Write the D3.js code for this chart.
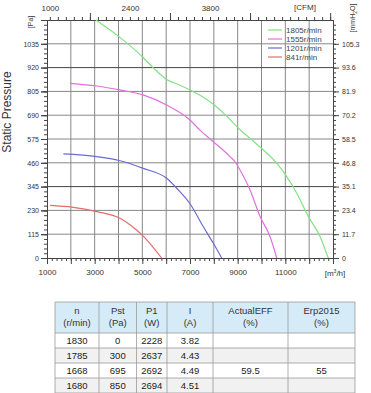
<!DOCTYPE html>
<html>
<head>
<meta charset="utf-8">
<script src="https://cdn.jsdelivr.net/npm/d3@7"></script>
<style>
  body { margin: 0; background: #fff; }
  svg { display: block; font-family: "Liberation Sans", Arial, sans-serif; }
  .axis text { fill: #333; font-size: 8px; }
  .axis.small text { font-size: 7px; }
  .axis path, .axis line { stroke: #444; }
</style>
</head>
<body>
<svg id="chart" width="371" height="393"></svg>
<script>
// fan curves: [flow m3/h, static pressure Pa]
const speeds = ['1805r/min', '1555r/min', '1201r/min', '841r/min'];
const colors = ['#86e086', '#e070e0', '#6b6bd6', '#e46b6b'];
const curve1805 = [[3050,1150],[4060,1066],[5030,969],[5450,920],[6020,863],[6580,835],[7000,812],[7420,786],[7970,744],[8540,685],[9100,620],[9520,578],[10080,522],[10640,458],[11060,393],[11480,313],[11970,200],[12460,103],[12800,0]];
const curve1555 = [[1965,844],[3085,831],[4060,812],[5030,788],[6020,739],[7000,667],[7420,618],[7980,562],[8680,490],[8890,465],[9100,425],[9520,329],[9940,200],[10360,103],[10640,0]];
const curve1201 = [[1685,503],[3085,490],[4063,470],[5040,433],[6020,385],[6500,330],[7000,262],[7560,151],[7980,71],[8330,0]];
const curve841 = [[1126,254],[2100,245],[3085,224],[4063,192],[4550,155],[5040,106],[5810,0]];
const curves = [curve1805, curve1555, curve1201, curve841];

// axes
const paTicks = d3.range(0, 1151, 115);
const paLabels = d3.range(0, 1036, 115);
const mmTicks = ['0', '11.7', '23.4', '35.1', '46.8', '58.5', '70.2', '81.9', '93.6', '105.3'];
const flowTicks = [1000, 3000, 5000, 7000, 9000, 11000];
const cfmTicks = [1000, 2400, 3800];

// table
const tableHead = [['n', '(r/min)'], ['Pst', '(Pa)'], ['P1', '(W)'], ['I', '(A)'], ['ActualEFF', '(%)'], ['Erp2015', '(%)']];
const tableRows = [
  ['1830', '0', '2228', '3.82', '', ''],
  ['1785', '300', '2637', '4.43', '', ''],
  ['1668', '695', '2692', '4.49', '59.5', '55'],
  ['1680', '850', '2694', '4.51', '', '']
];

const svg = d3.select('#chart');
const L = 47, R = 333, T = 20, B = 258;

const x = d3.scaleLinear().domain([1000, 13000]).range([L, R]);
const y = d3.scaleLinear().domain([0, 1150]).range([B, T]);
const xCfm = d3.scaleLinear().domain([950, 5950]).range([L, R]);

// grid
const grid = svg.append('g');
grid.selectAll('.vg').data(d3.range(2000, 13000, 1000)).enter().append('line')
  .attr('x1', d => x(d)).attr('x2', d => x(d)).attr('y1', T).attr('y2', B)
  .attr('stroke', '#888').attr('stroke-width', 1);
grid.selectAll('.hg').data(paTicks.slice(1, -1)).enter().append('line')
  .attr('x1', L).attr('x2', R).attr('y1', d => y(d)).attr('y2', d => y(d))
  .attr('stroke', d => (d === 920 || d === 345) ? '#444' : '#888').attr('stroke-width', 1);

// left axis
svg.append('g').attr('class', 'axis').attr('transform', `translate(${L},0)`)
  .call(d3.axisLeft(y).tickValues(d3.range(0, 1150, 23)).tickSize(3).tickFormat('').tickSizeOuter(0));
svg.append('g').attr('class', 'axis').attr('transform', `translate(${L},0)`)
  .call(d3.axisLeft(y).tickValues(paTicks).tickSize(6).tickFormat('').tickSizeOuter(0));
svg.append('g').attr('class', 'axis small').attr('transform', `translate(${L},0)`)
  .call(d3.axisLeft(y).tickValues(paLabels).tickSize(6).tickPadding(2).tickFormat(d3.format('d')).tickSizeOuter(0));

// right axis
svg.append('g').attr('class', 'axis').attr('transform', `translate(${R},0)`)
  .call(d3.axisRight(y).tickValues(d3.range(0, 1150, 23)).tickSize(3).tickFormat('').tickSizeOuter(0));
svg.append('g').attr('class', 'axis small').attr('transform', `translate(${R},0)`)
  .call(d3.axisRight(y).tickValues(paLabels).tickSize(6).tickPadding(3)
    .tickFormat((d, i) => mmTicks[i]).tickSizeOuter(0));

// bottom axis
svg.append('g').attr('class', 'axis').attr('transform', `translate(0,${B})`)
  .call(d3.axisBottom(x).tickValues(d3.range(1000, 13001, 200)).tickSize(3).tickFormat('').tickSizeOuter(0));
svg.append('g').attr('class', 'axis').attr('transform', `translate(0,${B})`)
  .call(d3.axisBottom(x).tickValues(d3.range(1000, 13001, 1000)).tickSize(6).tickPadding(5)
    .tickFormat(d => flowTicks.includes(d) ? d3.format('d')(d) : '').tickSizeOuter(0));
const unitX = svg.append('text').attr('x', x(13000) + 2).attr('y', B + 18).attr('text-anchor', 'middle')
  .attr('font-size', 8).attr('fill', '#333');
unitX.append('tspan').text('[m');
unitX.append('tspan').attr('font-size', 5).attr('dy', -3).text('3');
unitX.append('tspan').attr('dy', 3).text('/h]');

// top axis (CFM)
svg.append('g').attr('class', 'axis').attr('transform', `translate(0,${T})`)
  .call(d3.axisTop(xCfm).tickValues(d3.range(1000, 5950, 140)).tickSize(3).tickFormat('').tickSizeOuter(0));
svg.append('g').attr('class', 'axis').attr('transform', `translate(0,${T})`)
  .call(d3.axisTop(xCfm).tickValues([1700, 3100, 4500, 5900]).tickSize(7).tickFormat('').tickSizeOuter(0));
svg.append('g').attr('class', 'axis').attr('transform', `translate(0,${T})`)
  .call(d3.axisTop(xCfm).tickValues(cfmTicks).tickSize(0).tickPadding(9).tickFormat(d3.format('d')).tickSizeOuter(0))
  .call(g => g.select('.domain').remove());
svg.append('text').attr('x', 305).attr('y', 10).attr('text-anchor', 'middle')
  .attr('font-size', 8).attr('fill', '#333').text('[CFM]');

// axis titles
svg.append('text').attr('transform', 'translate(11,112) rotate(-90)').attr('text-anchor', 'middle')
  .attr('font-size', 12).attr('fill', '#333').text('Static Pressure');
svg.append('text').attr('transform', 'translate(33,22) rotate(-90)').attr('text-anchor', 'middle')
  .attr('font-size', 7).attr('fill', '#333').text('[Pa]');
const mm = svg.append('text').attr('transform', 'translate(355,18) rotate(-90)').attr('text-anchor', 'middle')
  .attr('font-size', 7).attr('fill', '#333');
mm.append('tspan').text('[mmH');
mm.append('tspan').attr('font-size', 5).attr('dy', 2).text('2');
mm.append('tspan').attr('dy', -2).text('O]');

// curves
const line = d3.line().x(d => x(d[0])).y(d => y(d[1])).curve(d3.curveMonotoneX);
svg.selectAll('.curve').data(curves).enter().append('path')
  .attr('d', line).attr('fill', 'none')
  .attr('stroke', (d, i) => colors[i]).attr('stroke-width', 1.2);

// legend
const lg = svg.append('g').attr('transform', 'translate(268,30)');
speeds.forEach((s, i) => {
  lg.append('line').attr('x1', 0).attr('x2', 14).attr('y1', i * 9).attr('y2', i * 9)
    .attr('stroke', colors[i]).attr('stroke-width', 1.2);
  lg.append('text').attr('x', 18).attr('y', i * 9 + 3).attr('font-size', 8).attr('fill', '#444').text(s);
});

// table
const colX = [55, 99, 136.5, 167, 213, 288, 355];
const headTop = 302, headH = 31, rowH = 15;
const tb = svg.append('g');
tb.append('rect').attr('x', colX[0]).attr('y', headTop).attr('width', colX[6] - colX[0]).attr('height', headH)
  .attr('fill', '#d5ebf7');
tableRows.forEach((r, i) => {
  tb.append('rect').attr('x', colX[0]).attr('y', headTop + headH + i * rowH)
    .attr('width', colX[6] - colX[0]).attr('height', rowH).attr('fill', i % 2 ? '#f1f1f1' : '#fff');
});
// borders
const nRows = tableRows.length;
const bottom = headTop + headH + nRows * rowH;
colX.forEach(cx => tb.append('line').attr('x1', cx).attr('x2', cx).attr('y1', headTop).attr('y2', bottom)
  .attr('stroke', '#9a9a9a').attr('stroke-width', 0.8));
[headTop].concat(d3.range(nRows + 1).map(i => headTop + headH + i * rowH)).forEach(ry =>
  tb.append('line').attr('x1', colX[0]).attr('x2', colX[6]).attr('y1', ry).attr('y2', ry)
    .attr('stroke', '#9a9a9a').attr('stroke-width', 0.8));
tableHead.forEach((h, j) => {
  const cx = (colX[j] + colX[j + 1]) / 2;
  tb.append('text').attr('x', cx).attr('y', headTop + 12).attr('text-anchor', 'middle')
    .attr('font-size', 9.5).attr('fill', '#333').text(h[0]);
  tb.append('text').attr('x', cx).attr('y', headTop + 24).attr('text-anchor', 'middle')
    .attr('font-size', 9.5).attr('fill', '#333').text(h[1]);
});
tableRows.forEach((r, i) => {
  r.forEach((v, j) => {
    tb.append('text').attr('x', (colX[j] + colX[j + 1]) / 2).attr('y', headTop + headH + i * rowH + 11)
      .attr('text-anchor', 'middle').attr('font-size', 9.5).attr('fill', '#222').text(v);
  });
});
</script>
</body>
</html>
